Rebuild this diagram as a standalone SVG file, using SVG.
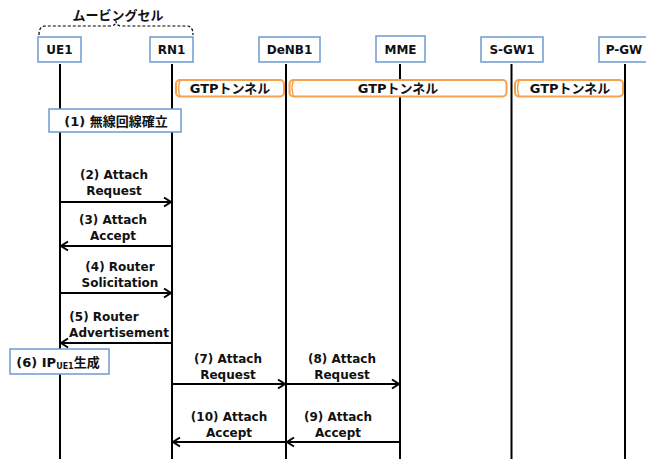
<svg xmlns="http://www.w3.org/2000/svg" width="646" height="459" viewBox="0 0 646 459">
<style>
text{font-family:"DejaVu Sans","Noto Sans CJK JP",sans-serif;font-weight:bold;font-size:12px;fill:#111;text-anchor:middle}
.jp{font-size:13px}
.box{fill:#fff;stroke:#6e9ad0;stroke-width:1.5}
.life{stroke:#000;stroke-width:2}
.tun{fill:#fff;stroke:#f7a14c;stroke-width:2}
.msg{stroke:#000;stroke-width:2;fill:none}
</style>
<defs>
<marker id="ah" markerWidth="12" markerHeight="12" refX="9" refY="6" orient="auto" markerUnits="userSpaceOnUse">
<path d="M2,1.5 L9,6 L2,10.5" fill="none" stroke="#000" stroke-width="2"/>
</marker>
</defs>
<rect width="646" height="459" fill="#fff"/>
<g id="lifelines">
<line class="life" x1="60" y1="64" x2="60" y2="459"/>
<line class="life" x1="172" y1="64" x2="172" y2="459"/>
<line class="life" x1="286" y1="64" x2="286" y2="459"/>
<line class="life" x1="400" y1="64" x2="400" y2="459"/>
<line class="life" x1="511.5" y1="64" x2="511.5" y2="459"/>
<line class="life" x1="625" y1="64" x2="625" y2="459"/>
</g>
<g id="moving-cell">
<path d="M39,35 Q39,26 45,26 H110 Q116,26 116,21 Q116,26 122,26 H187 Q193,26 193,35" fill="none" stroke="#000" stroke-width="1.2" stroke-dasharray="3,2"/>
<text class="jp" x="118" y="20">ムービングセル</text>
</g>
<g id="UE1"><rect class="box" x="38" y="37" width="43" height="25"/><text x="59.5" y="54">UE1</text></g>
<g id="RN1"><rect class="box" x="150" y="37" width="43" height="25"/><text x="171.5" y="54">RN1</text></g>
<g id="DeNB1"><rect class="box" x="259" y="37" width="61" height="25"/><text x="289.5" y="54">DeNB1</text></g>
<g id="MME"><rect class="box" x="376" y="36" width="49" height="26"/><text x="400.5" y="54">MME</text></g>
<g id="S-GW1"><rect class="box" x="481" y="37" width="62" height="25"/><text x="512" y="54">S-GW1</text></g>
<g id="P-GW"><rect class="box" x="599" y="37" width="50" height="25"/><text x="624" y="54">P-GW</text></g>
<g id="tunnel1"><rect class="tun" x="176" y="80" width="108" height="16.5" rx="4"/><path d="M180,80.5 Q177,88 180,96" fill="none" stroke="#f7a14c" stroke-width="1.5"/><text class="jp" x="230" y="93">GTPトンネル</text></g>
<g id="tunnel2"><rect class="tun" x="289.5" y="80" width="217" height="16.5" rx="4"/><path d="M293.5,80.5 Q290.5,88 293.5,96" fill="none" stroke="#f7a14c" stroke-width="1.5"/><text class="jp" x="398" y="93">GTPトンネル</text></g>
<g id="tunnel3"><rect class="tun" x="515" y="80" width="108" height="16.5" rx="4"/><path d="M519,80.5 Q516,88 519,96" fill="none" stroke="#f7a14c" stroke-width="1.5"/><text class="jp" x="570" y="93">GTPトンネル</text></g>
<g id="step1"><rect class="box" x="49" y="109" width="132" height="23"/><text class="jp" x="116" y="125.5">(1) 無線回線確立</text></g>
<g id="step6"><rect class="box" x="10" y="349" width="99" height="25"/><text class="jp" x="58" y="366.5">(6) IP<tspan font-size="8" dy="2.5">UE1</tspan><tspan dy="-2.5">生成</tspan></text></g>
<g id="connectors">
<line class="msg" x1="60" y1="202" x2="171" y2="202" marker-end="url(#ah)"/>
<line class="msg" x1="172" y1="246" x2="61" y2="246" marker-end="url(#ah)"/>
<line class="msg" x1="60" y1="293" x2="171" y2="293" marker-end="url(#ah)"/>
<line class="msg" x1="172" y1="343" x2="61" y2="343" marker-end="url(#ah)"/>
<line class="msg" x1="172" y1="384" x2="285" y2="384" marker-end="url(#ah)"/>
<line class="msg" x1="286" y1="384" x2="399" y2="384" marker-end="url(#ah)"/>
<line class="msg" x1="400" y1="442" x2="287" y2="442" marker-end="url(#ah)"/>
<line class="msg" x1="286" y1="442" x2="173" y2="442" marker-end="url(#ah)"/>
</g>
<g id="labels">
<text x="114" y="178.5">(2) Attach</text><text x="114" y="195">Request</text>
<text x="113" y="224">(3) Attach</text><text x="113" y="239.5">Accept</text>
<text x="120" y="271">(4) Router</text><text x="120" y="286.5">Solicitation</text>
<text x="104" y="321">(5) Router</text><text x="119" y="337">Advertisement</text>
<text x="228" y="363">(7) Attach</text><text x="228" y="378.5">Request</text>
<text x="342" y="363">(8) Attach</text><text x="342" y="378.5">Request</text>
<text x="229" y="421">(10) Attach</text><text x="229" y="436.5">Accept</text>
<text x="338" y="421">(9) Attach</text><text x="338" y="436.5">Accept</text>
</g>
</svg>
